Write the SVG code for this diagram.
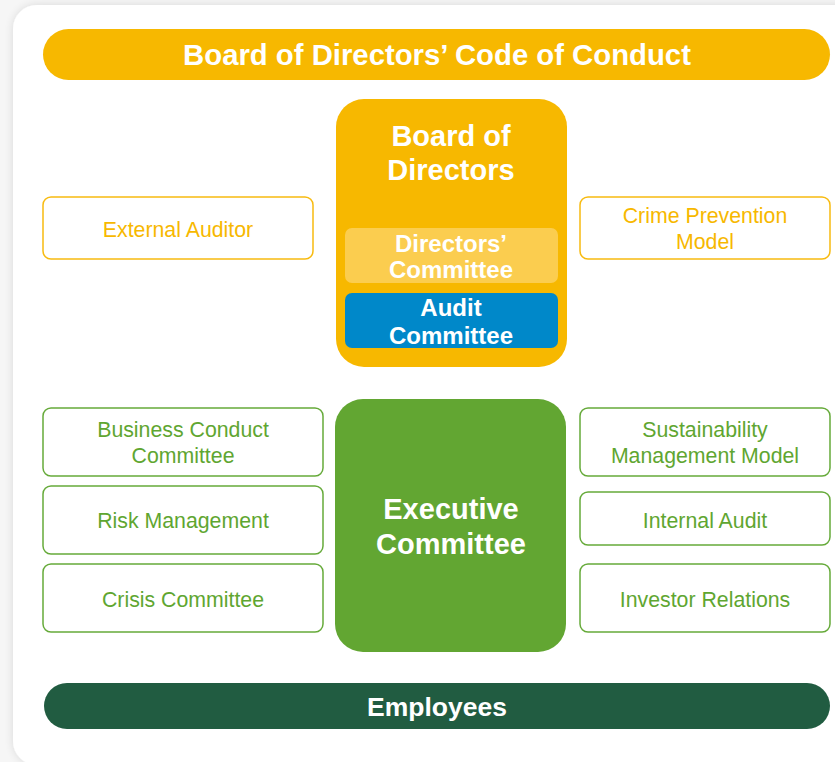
<svg xmlns="http://www.w3.org/2000/svg" width="835" height="762" viewBox="0 0 835 762">
  <defs>
    <filter id="cardShadow" x="-10%" y="-10%" width="120%" height="120%">
      <feGaussianBlur in="SourceAlpha" stdDeviation="5"/>
      <feOffset dx="0" dy="0" result="blur"/>
      <feComponentTransfer><feFuncA type="linear" slope="0.12"/></feComponentTransfer>
      <feMerge><feMergeNode/><feMergeNode in="SourceGraphic"/></feMerge>
    </filter>
    <style>
      text { font-family: "Liberation Sans", Arial, sans-serif; text-anchor: middle; }
      .bold { font-weight: bold; fill: #ffffff; }
      .title { font-size: 29.3px; }
      .big { font-size: 29px; }
      .mid { font-size: 24px; }
      .emp { font-size: 26.5px; }
      .yBox { fill: #ffffff; stroke: #F8BB10; stroke-width: 1.5; }
      .gBox { fill: #ffffff; stroke: #66AA3A; stroke-width: 1.5; }
      .yTxt { fill: #F7B800; font-size: 21.3px; }
      .gTxt { fill: #5FA631; font-size: 21.3px; }
    </style>
  </defs>

  <!-- page background and card -->
  <rect x="0" y="0" width="835" height="762" fill="#f6f6f6"/>
  <rect x="13" y="5" width="860" height="760" rx="24" fill="#ffffff" filter="url(#cardShadow)"/>

  <g id="connectors"/>

  <g id="code-of-conduct">
    <rect x="43" y="29" width="787" height="51" rx="25.5" fill="#F7B800"/>
    <text class="bold title" x="437" y="65">Board of Directors’ Code of Conduct</text>
  </g>

  <g id="board-of-directors">
    <rect x="336" y="99" width="231" height="268" rx="28" fill="#F7B800"/>
    <text class="bold big" x="451" y="146">Board of</text>
    <text class="bold big" x="451" y="180">Directors</text>
  </g>

  <g id="directors-committee">
    <rect x="345" y="228" width="213" height="55" rx="7" fill="#FBCD4F"/>
    <text class="bold mid" x="451" y="252">Directors’</text>
    <text class="bold mid" x="451" y="278">Committee</text>
  </g>

  <g id="audit-committee">
    <rect x="345" y="293" width="213" height="55" rx="7" fill="#0088C9"/>
    <text class="bold mid" x="451" y="316">Audit</text>
    <text class="bold mid" x="451" y="344">Committee</text>
  </g>

  <g id="external-auditor">
    <rect class="yBox" x="43" y="197" width="270" height="62" rx="8"/>
    <text class="yTxt" x="178" y="237">External Auditor</text>
  </g>

  <g id="crime-prevention-model">
    <rect class="yBox" x="580" y="197" width="250" height="62" rx="8"/>
    <text class="yTxt" x="705" y="223">Crime Prevention</text>
    <text class="yTxt" x="705" y="249">Model</text>
  </g>

  <g id="executive-committee">
    <rect x="335" y="399" width="231" height="253" rx="28" fill="#62A632"/>
    <text class="bold big" x="451" y="519">Executive</text>
    <text class="bold big" x="451" y="554">Committee</text>
  </g>

  <g id="business-conduct-committee">
    <rect class="gBox" x="43" y="408" width="280" height="68" rx="8"/>
    <text class="gTxt" x="183" y="437">Business Conduct</text>
    <text class="gTxt" x="183" y="463">Committee</text>
  </g>

  <g id="risk-management">
    <rect class="gBox" x="43" y="486" width="280" height="68" rx="8"/>
    <text class="gTxt" x="183" y="528">Risk Management</text>
  </g>

  <g id="crisis-committee">
    <rect class="gBox" x="43" y="564" width="280" height="68" rx="8"/>
    <text class="gTxt" x="183" y="607">Crisis Committee</text>
  </g>

  <g id="sustainability-management-model">
    <rect class="gBox" x="580" y="408" width="250" height="68" rx="8"/>
    <text class="gTxt" x="705" y="437">Sustainability</text>
    <text class="gTxt" x="705" y="463">Management Model</text>
  </g>

  <g id="internal-audit">
    <rect class="gBox" x="580" y="492" width="250" height="53" rx="8"/>
    <text class="gTxt" x="705" y="528">Internal Audit</text>
  </g>

  <g id="investor-relations">
    <rect class="gBox" x="580" y="564" width="250" height="68" rx="8"/>
    <text class="gTxt" x="705" y="607">Investor Relations</text>
  </g>

  <g id="employees">
    <rect x="44" y="683" width="786" height="46" rx="23" fill="#215C41"/>
    <text class="bold emp" x="437" y="716">Employees</text>
  </g>
</svg>
